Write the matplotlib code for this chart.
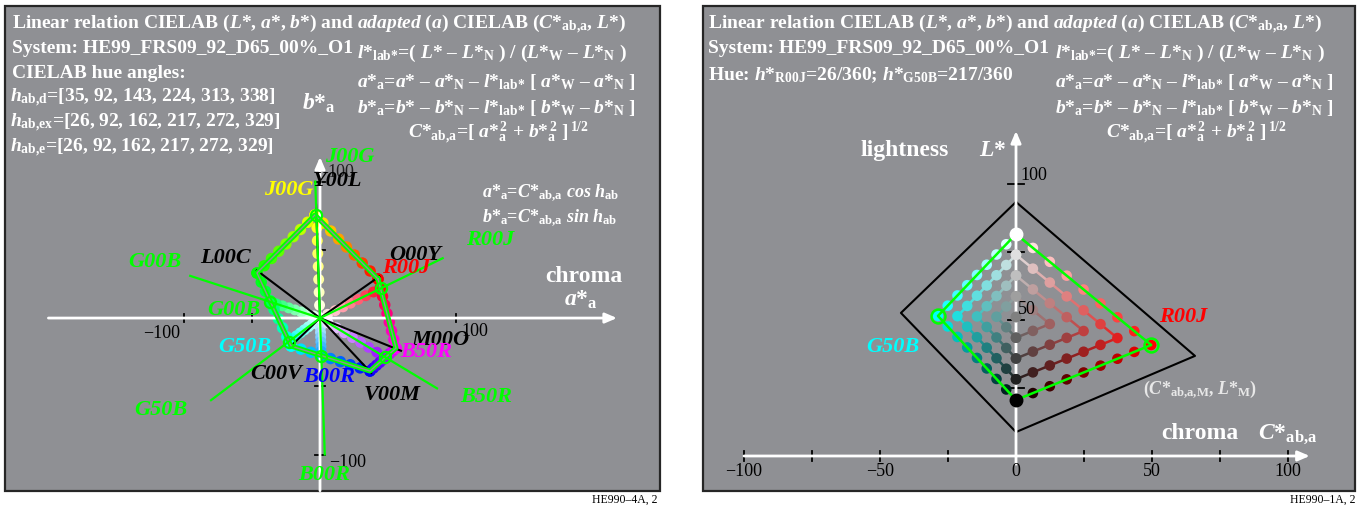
import numpy as np
import matplotlib
matplotlib.use("Agg")
import matplotlib.pyplot as plt
from matplotlib.collections import LineCollection
from matplotlib.patches import Rectangle

plt.rcParams["font.family"] = ["Liberation Serif", "DejaVu Serif"]
plt.rcParams["mathtext.fontset"] = "custom"
plt.rcParams["mathtext.rm"] = "Liberation Serif:bold"
plt.rcParams["mathtext.it"] = "Liberation Serif:bold:italic"
plt.rcParams["mathtext.bf"] = "Liberation Serif:bold"

# ==========================================
# Data
# ==========================================

# CIELAB hue angles (device, experimental, elementary)
h_ab_d = [35, 92, 143, 224, 313, 338]
h_ab_ex = [26, 92, 162, 217, 272, 329]
h_ab_e = [26, 92, 162, 217, 272, 329]

# device colours: chroma along h_ab_d and display colour
dev_names = ["O00Y", "Y00L", "L00C", "C00V", "V00M", "M00O"]
dev_chroma = [53, 83, 58, 31, 55, 64]
dev_rgb = [(1, 0, 0), (1, 1, 0), (0, 1, 0), (0, 1, 1), (0, 0, 1), (1, 0, 1)]

# adapted device colours (a*_a, b*_a)
adp_a = [42.5, -3.7, -46.2, -21.2, 36.6, 55.7]
adp_b = [28.6, 75.5, 33.0, -20.5, -38.8, -22.0]

# elementary hues
elem_names = ["R00J", "J00G", "G00B", "G50B", "B00R", "B50R"]
elem_chroma = [49.7, 75.6, 38.6, 28.7, 27.9, 55.5]
elem_rgb = [(1, 0, 0.13), (1, 1, 0), (0, 1, 0.39), (0, 1, 0.94), (0, 0.62, 1), (0.58, 0, 1)]
elem_ray = [100, 100, 100, 100, 100, 100]

# sample steps along each edge
grid_steps = [0, 1, 2, 3, 4, 5, 6, 7, 8]

# right panel: adapted lightness of white / black and the two hue maxima
L_white = 81.6
L_black = 20.6
L_r00j = 40.8
L_g50b = 51.5
frame_C = [0, -42.3, 0, 65.8]
frame_L = [93.4, 52.6, 8.8, 36.8]

ab_ticks = [-100, -50, 50, 100]
c_ticks = [-100, -75, -50, -25, 0, 25, 50, 75, 100]
c_tick_labels = [-100, -50, 0, 50, 100]
l_ticks = [25, 50, 75, 100]

PANEL = "#8f9094"
GREEN = "#00ff00"

# ==========================================
# Figure, panels
# ==========================================

fig = plt.figure(figsize=(13.62, 5.06), dpi=100)

bg = fig.add_axes([0, 0, 1, 1], zorder=0)
bg.set_xlim(0, 1362)
bg.set_ylim(506, 0)
bg.axis("off")
for x0, x1 in [(5, 660), (703, 1355)]:
    bg.add_patch(Rectangle((x0, 7), x1 - x0, 485, facecolor=PANEL,
                           edgecolor="#262626", lw=1.6))

fg = fig.add_axes([0, 0, 1, 1], zorder=5)
fg.set_xlim(0, 1362)
fg.set_ylim(506, 0)
fg.axis("off")


def txt(x, y, s, size=14, color="white", ha="left", va="baseline",
        weight="bold", style="normal"):
    fg.text(x, y, s, fontsize=size, color=color, ha=ha, va=va,
            fontweight=weight, fontstyle=style)


def label(x, y, s, color, size=16):
    txt(x, y, s, size=size, color=color, ha="center", va="center", style="italic")


n = grid_steps[-1]
fr = np.array(grid_steps) / n

# ==========================================
# Left panel: a*_a, b*_a plane
# ==========================================

axl = fig.add_axes([5 / 1362, 14 / 506, 655 / 1362, 485 / 506], zorder=2)
axl.set_xlim(-230.8, 249.1)
axl.set_ylim(-126.7, 228.6)
axl.axis("off")

arrow = dict(arrowstyle="-|>,head_length=0.7,head_width=0.3", color="white",
             lw=2, shrinkA=0, shrinkB=0)
axl.annotate("", xy=(217.6, 0), xytext=(-199, 0), arrowprops=arrow)
axl.annotate("", xy=(0, 118), xytext=(0, -126.5), arrowprops=arrow)
for t in ab_ticks:
    axl.plot([t, t], [-3, 3], color="black", lw=1.3, zorder=1)
    axl.plot([-4, 4], [t, t], color="black", lw=1.3, zorder=1)

# radial chains from white (origin) to each elementary hue
he = np.radians(h_ab_e)
ea = np.array(elem_chroma) * np.cos(he)
eb = np.array(elem_chroma) * np.sin(he)
for k in range(6):
    cols = [tuple(1 + f * (c - 1) for c in elem_rgb[k]) for f in fr]
    axl.scatter(fr * ea[k], fr * eb[k], s=62, c=cols, linewidths=0, zorder=2)

# chains along the adapted device hexagon
for k in range(6):
    k2 = (k + 1) % 6
    xs = adp_a[k] + fr * (adp_a[k2] - adp_a[k])
    ys = adp_b[k] + fr * (adp_b[k2] - adp_b[k])
    cols = [tuple(c1 + f * (c2 - c1) for c1, c2 in zip(dev_rgb[k], dev_rgb[k2]))
            for f in fr]
    axl.scatter(xs, ys, s=68, c=cols, linewidths=0, zorder=2)

# black lines to the device colours
hd = np.radians(h_ab_d)
da = np.array(dev_chroma) * np.cos(hd)
db = np.array(dev_chroma) * np.sin(hd)
for k in range(6):
    axl.plot([0, da[k]], [0, db[k]], color="black", lw=1.5, zorder=3)

# adapted hexagon, drawn as double green line
hx = adp_a + adp_a[:1]
hy = adp_b + adp_b[:1]
axl.plot(hx, hy, color=GREEN, lw=3.6, zorder=4)
axl.plot(hx, hy, color=PANEL, lw=1.0, zorder=4)

# elementary hue rays and points
for k in range(6):
    axl.plot([0, elem_ray[k] * np.cos(he[k])], [0, elem_ray[k] * np.sin(he[k])],
             color=GREEN, lw=1.6, zorder=4)
axl.plot(ea, eb, "o", ms=8, mfc="none", mec=GREEN, mew=1.6, ls="none", zorder=5)

# ==========================================
# Right panel: chroma / lightness plane
# ==========================================

axr = fig.add_axes([703 / 1362, 14 / 506, 652 / 1362, 485 / 506], zorder=2)
axr.set_xlim(-115.07, 124.63)
axr.set_ylim(-12.87, 165.44)
axr.axis("off")

axr.annotate("", xy=(108, 0), xytext=(-100, 0), arrowprops=arrow)
axr.annotate("", xy=(0, 119.5), xytext=(0, -3), arrowprops=arrow)
for t in c_ticks:
    axr.plot([t, t], [-1.9, 1.9], color="black", lw=1.3, zorder=1)
for t in l_ticks:
    axr.plot([-2.8, 2.8], [t, t], color="black", lw=1.3, zorder=1)

axr.plot(frame_C + frame_C[:1], frame_L + frame_L[:1], color="black", lw=1.5, zorder=1)

white = np.array([0.0, L_white])
black = np.array([0.0, L_black])
for tipC, tipL, rgb in [(elem_chroma[0], L_r00j, (1, 0, 0)),
                        (-elem_chroma[3], L_g50b, (0, 1, 1))]:
    tip = np.array([tipC, tipL])
    pts = {}
    for i in grid_steps:
        for j in grid_steps:
            if i + j > n:
                continue
            p = black + i / n * (white - black) + j / n * (tip - black)
            col = tuple(min(1, i / n + j / n * c) for c in rgb)
            pts[(i, j)] = (p, col)
    # nested chevrons: constant i+j from the top, constant i from the bottom
    segs, scol = [], []
    for k in range(1, n // 2 + 1):
        path = [(i, n - k - i) for i in range(n - k, k - 1, -1)]
        path += [(k, j) for j in range(n - 2 * k - 1, -1, -1)]
        for a, b in zip(path[:-1], path[1:]):
            segs.append([pts[a][0], pts[b][0]])
            scol.append(tuple((x + y) / 2 for x, y in zip(pts[a][1], pts[b][1])))
    axr.add_collection(LineCollection(segs, colors=scol, lw=1.8, zorder=2))
    keys = sorted(pts)
    axr.scatter([pts[q][0][0] for q in keys], [pts[q][0][1] for q in keys], s=58,
                c=[pts[q][1] for q in keys], linewidths=0, zorder=3)
    axr.plot([0, tipC, 0], [L_white, tipL, L_black], color=GREEN, lw=1.8, zorder=4)
    axr.plot([tipC], [tipL], "o", ms=10, mfc="none", mec=GREEN, mew=1.8, zorder=5)

axr.plot([0], [L_white], "o", ms=9, color="white", zorder=5)
axr.plot([0], [L_black], "o", ms=9, color="black", zorder=5)

# ==========================================
# Texts, left panel
# ==========================================

title = (r"Linear relation CIELAB ($L$*, $a$*, $b$*) and $\mathit{adapted\ (a)}$ "
         r"CIELAB ($C$*$_{\text{ab,a}}$, $L$*)")
txt(12, 29, title)
txt(12, 53, "System: HE99_FRS09_92_D65_00%_O1")
txt(12, 78, "CIELAB hue angles:")
txt(10, 102, r"$h_{\text{ab,d}}$=[" + ", ".join(str(v) for v in h_ab_d) + "]")
txt(10, 127, r"$h_{\text{ab,ex}}$=[" + ", ".join(str(v) for v in h_ab_ex) + "]")
txt(10, 152, r"$h_{\text{ab,e}}$=[" + ", ".join(str(v) for v in h_ab_e) + "]")

formulas = [
    (0, 58, r"$l$*$_{\text{lab*}}$=( $L$* – $L$*$_{\text{N}}$ ) / "
            r"($L$*$_{\text{W}}$ – $L$*$_{\text{N}}$ )"),
    (0, 87, r"$a$*$_{\text{a}}$=$a$* – $a$*$_{\text{N}}$ – $l$*$_{\text{lab*}}$ "
            r"[ $a$*$_{\text{W}}$ – $a$*$_{\text{N}}$ ]"),
    (0, 113, r"$b$*$_{\text{a}}$=$b$* – $b$*$_{\text{N}}$ – $l$*$_{\text{lab*}}$ "
             r"[ $b$*$_{\text{W}}$ – $b$*$_{\text{N}}$ ]"),
    (51, 138, r"$C$*$_{\text{ab,a}}$=[ $a$*$_{\text{a}}^{\,2}$ + $b$*$_{\text{a}}^{\,2}$ ]"
              r"$^{\,\text{1/2}}$"),
]
for x0 in (357, 1055):
    for dx, y, s in formulas:
        txt(x0 + dx, y, s)

txt(302, 110, r"$b$*$_{\text{a}}$", size=17)
txt(482, 197, r"$a$*$_{\text{a}}$=$C$*$_{\text{ab,a}}$ $cos$ $h_{\text{ab}}$", size=13)
txt(482, 222, r"$b$*$_{\text{a}}$=$C$*$_{\text{ab,a}}$ $sin$ $h_{\text{ab}}$", size=13)
txt(584, 277, "chroma", size=17, ha="center", va="center")
txt(581, 300, r"$a$*$_{\text{a}}$", size=17, ha="center", va="center")

txt(162, 333, "−100", size=13, color="black", ha="center", va="center", weight="normal")
txt(475, 332, "100", size=13, color="black", ha="center", va="center", weight="normal")
txt(341, 172, "100", size=13, color="#202020", ha="center", va="center", weight="normal")
txt(348, 463, "−100", size=13, color="black", ha="center", va="center", weight="normal")

left_labels = [
    (350, 157, "J00G", GREEN), (338, 181, "Y00L", "black"), (289, 190, "J00G", "yellow"),
    (226, 258, "L00C", "black"), (155, 262, "G00B", GREEN), (415, 255, "O00Y", "black"),
    (406, 268, "R00J", "red"), (490, 240, "R00J", GREEN), (234, 310, "G00B", GREEN),
    (245, 347, "G50B", "cyan"), (440, 340, "M00O", "black"), (426, 352, "B50R", "magenta"),
    (276, 374, "C00V", "black"), (329, 377, "B00R", "blue"), (392, 395, "V00M", "black"),
    (161, 410, "G50B", GREEN), (486, 397, "B50R", GREEN), (324, 475, "B00R", GREEN),
]
for x, y, s, c in left_labels:
    label(x, y, s, c)

txt(658, 503, "HE990–4A, 2", size=8.5, color="black", ha="right", weight="normal")

# ==========================================
# Texts, right panel
# ==========================================

txt(708, 29, title)
txt(708, 53, "System: HE99_FRS09_92_D65_00%_O1")
txt(708, 80, r"Hue: $h$*$_{\text{R00J}}$=" + f"{h_ab_e[0]}/360; " +
             r"$h$*$_{\text{G50B}}$=" + f"{h_ab_e[3]}/360")

txt(905, 150, "lightness", size=17, ha="center", va="center")
txt(993, 150, r"$L$*", size=17, ha="center", va="center")
txt(1020, 175, "100", size=13, color="black", va="center", weight="normal")
txt(1018, 310, "50", size=13, color="black", va="center", weight="normal")
label(1183, 317, "R00J", "red")
label(893, 347, "G50B", "cyan")
txt(1143, 390, r"($C$*$_{\text{ab,a,M}}$, $L$*$_{\text{M}}$)", size=13, color="#e8e8e8",
    va="center")
txt(1200, 434, "chroma", size=17, ha="center", va="center")
txt(1288, 434, r"$C$*$_{\text{ab,a}}$", size=17, ha="center", va="center")

for v in c_tick_labels:
    lab = str(v).replace("-", "−")
    txt(1016 + 2.72 * v, 472, lab, size=13, color="black", ha="center", va="center",
        weight="normal")

txt(1355, 503, "HE990–1A, 2", size=8.5, color="black", ha="right", weight="normal")

plt.savefig("out.png", dpi=100)
